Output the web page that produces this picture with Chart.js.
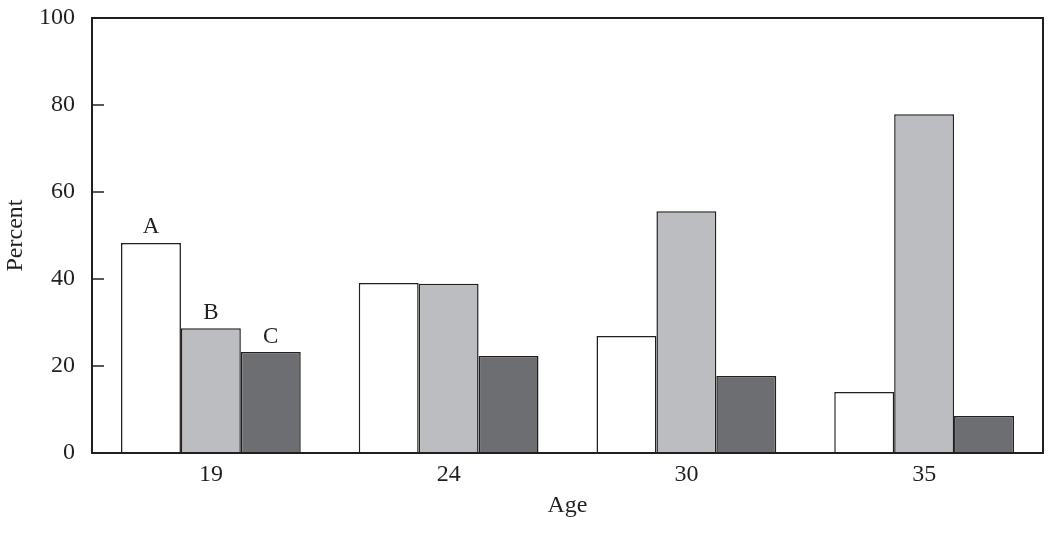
<!DOCTYPE html>
<html>
<head>
<meta charset="utf-8">
<script src="https://cdn.jsdelivr.net/npm/chart.js@4/dist/chart.umd.min.js"></script>
<style>
  html, body { margin: 0; padding: 0; background: #fff; }
  #wrap { width: 1050px; height: 538px; position: relative; }
</style>
</head>
<body>
<div id="wrap"><canvas id="ageChart"></canvas></div>
<script>
/* ─── Data ─── */
const ages = ['19', '24', '30', '35'];
const seriesNames = ['A', 'B', 'C'];
const valuesA = [48.3, 39.1, 26.9, 14.0];
const valuesB = [28.7, 38.9, 55.6, 77.9];
const valuesC = [23.2, 22.3, 17.7, 8.5];
const yTicks = [0, 20, 40, 60, 80, 100];

const INK = '#231f20';
const FONT = "'Liberation Serif', 'DejaVu Serif', serif";

/* ─── Frame, inward tick marks, and A/B/C labels over the first group ─── */
const framePlugin = {
    id: 'frame',
    afterDatasetsDraw(chart) {
        const { ctx, chartArea: a, scales } = chart;
        ctx.save();
        ctx.strokeStyle = INK;
        ctx.lineWidth = 2;
        ctx.strokeRect(a.left, a.top, a.right - a.left, a.bottom - a.top);

        ctx.lineWidth = 1.5;
        yTicks.forEach(function (v) {
            const y = scales.y.getPixelForValue(v);
            ctx.beginPath();
            ctx.moveTo(a.left, y);
            ctx.lineTo(a.left + 12, y);
            ctx.stroke();
        });

        ctx.fillStyle = INK;
        ctx.font = '23px ' + FONT;
        ctx.textAlign = 'center';
        ctx.textBaseline = 'bottom';
        chart.data.datasets.forEach(function (ds, i) {
            const bar = chart.getDatasetMeta(i).data[0];
            ctx.fillText(seriesNames[i], bar.x, bar.y - 4);
        });
        ctx.restore();
    }
};

const makeSet = (label, data, fill) => ({
    label: label,
    data: data,
    backgroundColor: fill,
    borderColor: INK,
    borderWidth: 1.5,
    barPercentage: 1,
    categoryPercentage: 0.756
});

new Chart(document.getElementById('ageChart'), {
    type: 'bar',
    data: {
        labels: ages,
        datasets: [
            makeSet('A', valuesA, '#ffffff'),
            makeSet('B', valuesB, '#bcbdc0'),
            makeSet('C', valuesC, '#6d6e71')
        ]
    },
    options: {
        responsive: true,
        maintainAspectRatio: false,
        animation: false,
        layout: { padding: { top: 18, right: 7, left: 0, bottom: 0 } },
        plugins: {
            legend: { display: false },
            tooltip: { enabled: false }
        },
        scales: {
            x: {
                grid: { display: false, drawTicks: false },
                border: { display: false },
                ticks: {
                    color: INK,
                    font: { size: 24, family: FONT },
                    padding: 7,
                    maxRotation: 0
                },
                title: {
                    display: true,
                    text: 'Age',
                    color: INK,
                    font: { size: 24, family: FONT },
                    padding: { top: 0, bottom: 18 }
                },
                afterFit: function (s) {
                    s.height = 85;
                    s.paddingLeft = 0;
                    s.paddingRight = 0;
                }
            },
            y: {
                min: 0,
                max: 100,
                grid: { display: false, drawTicks: false },
                border: { display: false },
                afterBuildTicks: function (s) {
                    s.ticks = yTicks.map(v => ({ value: v }));
                },
                ticks: {
                    color: INK,
                    font: { size: 24, family: FONT },
                    padding: 17
                },
                title: {
                    display: true,
                    text: 'Percent',
                    color: INK,
                    font: { size: 24, family: FONT },
                    padding: { top: 1, bottom: 0 }
                },
                afterFit: function (s) {
                    s.width = 92;
                    s.paddingTop = 0;
                    s.paddingBottom = 0;
                }
            }
        }
    },
    plugins: [framePlugin]
});
</script>
</body>
</html>
